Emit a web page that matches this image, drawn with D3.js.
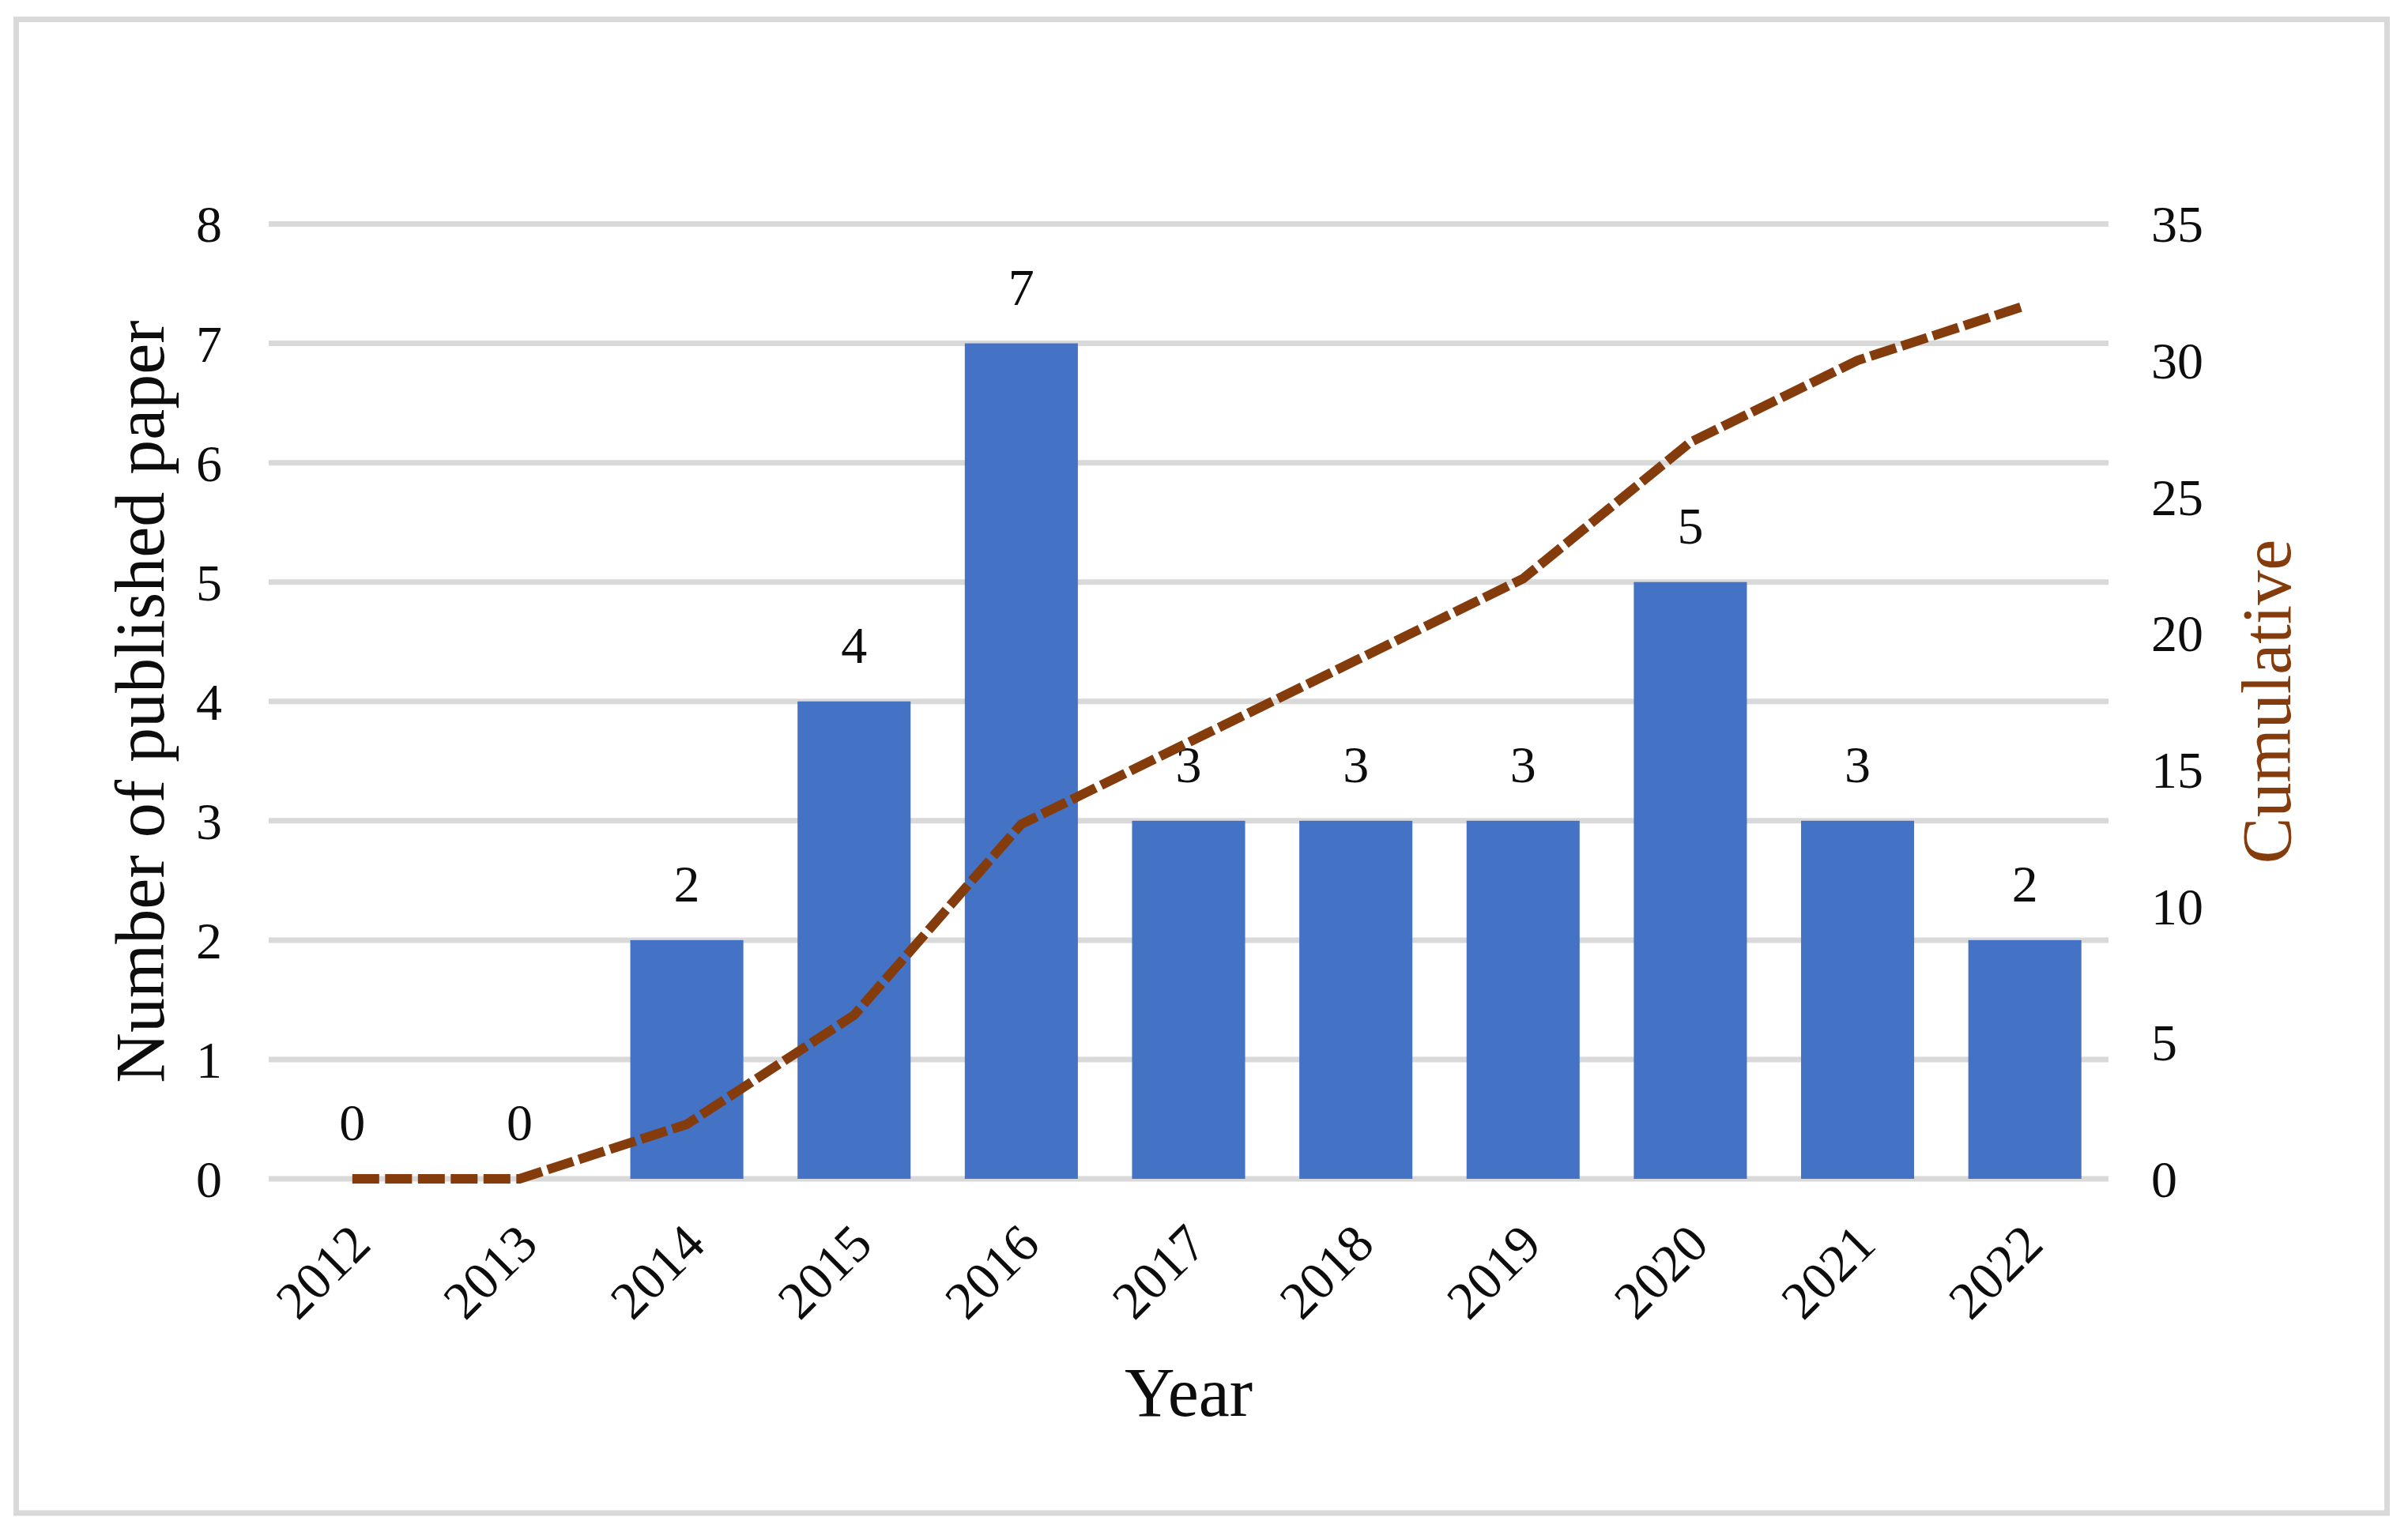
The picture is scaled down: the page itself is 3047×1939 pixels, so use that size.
<!DOCTYPE html>
<html>
<head>
<meta charset="utf-8">
<script src="https://cdn.jsdelivr.net/npm/d3@7"></script>
<style>
html,body{margin:0;padding:0;background:#fff;}
svg{display:block;}
text{font-family:"Liberation Serif","Times New Roman",serif;fill:#0d0d0d;}
</style>
</head>
<body>
<svg id="chart" width="3047" height="1939"></svg>
<script>
const years = ["2012","2013","2014","2015","2016","2017","2018","2019","2020","2021","2022"];
const papers = [0,0,2,4,7,3,3,3,5,3,2];
const cumulative = [0,0,2,6,13,16,19,22,27,30,32];
const leftTicks = [0,1,2,3,4,5,6,7,8];
const rightTicks = [0,5,10,15,20,25,30,35];
const leftTitle = "Number of published paper";
const rightTitle = "Cumulative";
const xTitle = "Year";

const svg = d3.select("#chart");
const W = 3047, H = 1939;
svg.append("rect").attr("x",0).attr("y",0).attr("width",W).attr("height",H).attr("fill","#fff");
// outer border
svg.append("rect").attr("x",20.5).attr("y",24.5).attr("width",3000).attr("height",1890.5)
  .attr("fill","none").attr("stroke","#d9d9d9").attr("stroke-width",7);

const plot = {left:340, right:2668, top:283.5, bottom:1492};
const pad = 0.324;
const x = d3.scaleBand().domain(years).range([plot.left, plot.right]).paddingInner(pad).paddingOuter(pad/2);
const yL = d3.scaleLinear().domain([0,8]).range([plot.bottom, plot.top]);
const yR = d3.scaleLinear().domain([0,35]).range([plot.bottom, plot.top]);

// gridlines
svg.append("g").selectAll("line").data(leftTicks).join("line")
  .attr("x1",plot.left).attr("x2",plot.right)
  .attr("y1",d=>yL(d)).attr("y2",d=>yL(d))
  .attr("stroke","#d9d9d9").attr("stroke-width",7);

// left axis
const axL = d3.axisLeft(yL).tickValues(leftTicks).tickSize(0).tickPadding(0).tickFormat(d3.format("d"));
const gL = svg.append("g").attr("transform",`translate(${281},0)`).call(axL);
gL.select(".domain").remove();
gL.selectAll("text").attr("font-size",66).attr("fill","#0d0d0d")
  .attr("font-family","Liberation Serif, Times New Roman, serif").attr("dy","0.34em").attr("x",0);

// right axis
const axR = d3.axisRight(yR).tickValues(rightTicks).tickSize(0).tickPadding(0).tickFormat(d3.format("d"));
const gR = svg.append("g").attr("transform",`translate(${2722},0)`).call(axR);
gR.select(".domain").remove();
gR.selectAll("text").attr("font-size",66).attr("fill","#0d0d0d")
  .attr("font-family","Liberation Serif, Times New Roman, serif").attr("dy","0.34em").attr("x",0);

// bars
svg.append("g").selectAll("rect").data(years).join("rect")
  .attr("x",d=>x(d)).attr("width",x.bandwidth())
  .attr("y",(d,i)=>yL(papers[i])).attr("height",(d,i)=>yL(0)-yL(papers[i]))
  .attr("fill","#4472c4");

// bar labels
svg.append("g").selectAll("text").data(years).join("text")
  .attr("x",d=>x(d)+x.bandwidth()/2)
  .attr("y",(d,i)=>yL(papers[i])-49)
  .attr("text-anchor","middle").attr("font-size",66)
  .text((d,i)=>papers[i]);

// cumulative line
const line = d3.line().x((d,i)=>x(years[i])+x.bandwidth()/2).y(d=>yR(d));
svg.append("path").datum(cumulative).attr("d",line)
  .attr("fill","none").attr("stroke","#843c0c").attr("stroke-width",12)
  .attr("stroke-dasharray","34,7.5").attr("stroke-linejoin","round");

// x category labels
const axB = d3.axisBottom(x).tickSize(0).tickPadding(0);
const gB = svg.append("g").attr("transform",`translate(0,${plot.bottom})`).call(axB);
gB.select(".domain").remove();
gB.selectAll("text")
  .attr("font-size",67).attr("fill","#0d0d0d")
  .attr("font-family","Liberation Serif, Times New Roman, serif")
  .attr("text-anchor","end").attr("y",0).attr("dy",0)
  .attr("transform","translate(26,86) rotate(-45)");

// titles
svg.append("text").attr("x",1504).attr("y",1792).attr("text-anchor","middle")
  .attr("font-size",88).text(xTitle);
svg.append("text").attr("transform",`translate(207,888) rotate(-90)`).attr("text-anchor","middle")
  .attr("font-size",88).text(leftTitle);
svg.append("text").attr("transform",`translate(2898,888) rotate(-90)`).attr("text-anchor","middle")
  .attr("font-size",88).style("fill","#843c0c").text(rightTitle);
</script>
</body>
</html>
